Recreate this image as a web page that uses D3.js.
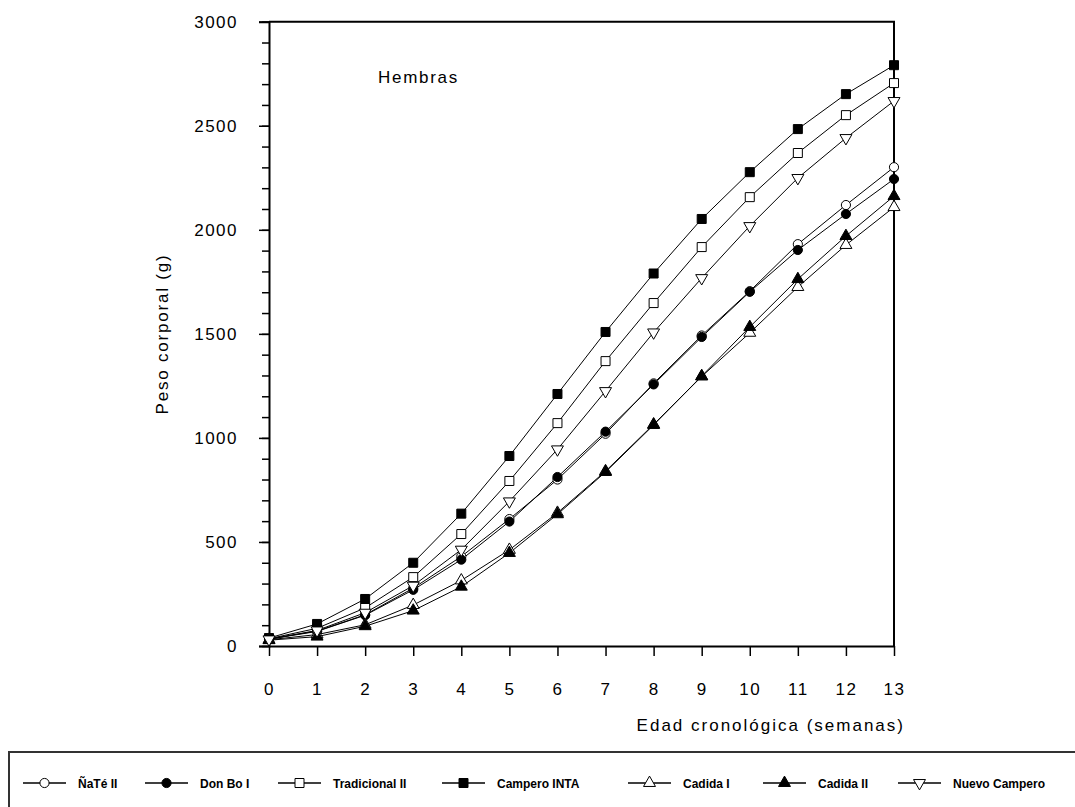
<!DOCTYPE html>
<html>
<head>
<meta charset="utf-8">
<script src="https://cdn.jsdelivr.net/npm/d3@7"></script>
<style>
  body { margin: 0; background: #fff; }
  svg { display: block; font-family: "Liberation Sans", Arial, sans-serif; }
</style>
</head>
<body>
<div id="chart"></div>
<script>
// weeks (x categories)
const weeks = [0, 1, 2, 3, 4, 5, 6, 7, 8, 9, 10, 11, 12, 13];
const yTicks = [0, 500, 1000, 1500, 2000, 2500, 3000];

// body weight (g) per line
const nate2      = [34, 72, 150, 278, 430, 610, 800, 1020, 1262, 1492, 1705, 1931, 2119, 2301];
const donBo1     = [33, 70, 148, 270, 415, 598, 812, 1030, 1257, 1485, 1702, 1903, 2076, 2244];
const tradic2    = [35, 85, 183, 331, 538, 793, 1071, 1369, 1648, 1917, 2157, 2369, 2551, 2705];
const camperoInta= [38, 106, 226, 400, 636, 913, 1211, 1509, 1790, 2052, 2277, 2484, 2652, 2791];
const cadida1    = [30, 55, 102, 197, 315, 462, 640, 840, 1065, 1295, 1505, 1725, 1927, 2109];
const cadida2    = [28, 45, 95, 170, 285, 447, 633, 836, 1062, 1297, 1533, 1763, 1970, 2162];
const nuevoCamp  = [32, 75, 160, 290, 463, 695, 945, 1225, 1507, 1768, 2018, 2249, 2441, 2619];

const seriesNames = ['ÑaTé II', 'Don Bo I', 'Tradicional II', 'Campero INTA', 'Cadida I', 'Cadida II', 'Nuevo Campero'];
const seriesValues = [nate2, donBo1, tradic2, camperoInta, cadida1, cadida2, nuevoCamp];

// marker style per series
const markers = [
  {shape: 'circle', fill: '#fff'},
  {shape: 'circle', fill: '#000'},
  {shape: 'square', fill: '#fff'},
  {shape: 'square', fill: '#000'},
  {shape: 'triangle', fill: '#fff'},
  {shape: 'triangle', fill: '#000'},
  {shape: 'triangleDown', fill: '#fff'}
];

const width = 1075, height = 807;
const plot = {left: 269, right: 894, top: 21.7, bottom: 646};

const svg = d3.select('#chart').append('svg')
  .attr('width', width)
  .attr('height', height);

const x = d3.scaleLinear().domain([0, 13]).range([plot.left, plot.right]);
const y = d3.scaleLinear().domain([0, 3000]).range([plot.bottom, plot.top]);

const tickFont = g => g.selectAll('text')
  .attr('font-size', 17)
  .attr('letter-spacing', '1.5px')
  .attr('fill', '#000')
  .attr('font-family', '"Liberation Sans", Arial, sans-serif');

// minor y ticks (every 100)
svg.append('g')
  .attr('transform', `translate(${plot.left},0)`)
  .call(d3.axisLeft(y).tickValues(d3.range(0, 3001, 100)).tickSize(7).tickFormat(''))
  .call(g => g.select('.domain').remove())
  .call(g => g.selectAll('line').attr('stroke', '#000').attr('stroke-width', 1.5));

// major y ticks
svg.append('g')
  .attr('transform', `translate(${plot.left},0)`)
  .call(d3.axisLeft(y).tickValues(yTicks).tickSize(10).tickPadding(21).tickFormat(d3.format('d')))
  .call(g => g.select('.domain').attr('stroke', '#000').attr('stroke-width', 2))
  .call(g => g.selectAll('line').attr('stroke', '#000').attr('stroke-width', 1.5))
  .call(tickFont);

// x axis
svg.append('g')
  .attr('transform', `translate(0,${plot.bottom})`)
  .call(d3.axisBottom(x).tickValues(weeks).tickSize(10).tickPadding(27).tickSizeOuter(0))
  .call(g => g.select('.domain').attr('stroke', '#000').attr('stroke-width', 2))
  .call(g => g.selectAll('line').attr('stroke', '#000').attr('stroke-width', 1.5))
  .call(tickFont);

// top and right frame
svg.append('path')
  .attr('d', `M${plot.left},${y(3000)}H${x(13)}V${y(0)}`)
  .attr('fill', 'none')
  .attr('stroke', '#000')
  .attr('stroke-width', 2);

// axis titles
svg.append('text')
  .attr('x', 905).attr('y', 731)
  .attr('text-anchor', 'end')
  .attr('font-size', 17)
  .attr('letter-spacing', '2px')
  .text('Edad cronológica (semanas)');

svg.append('text')
  .attr('transform', 'translate(168,334) rotate(-90)')
  .attr('text-anchor', 'middle')
  .attr('font-size', 17)
  .attr('letter-spacing', '1.8px')
  .text('Peso corporal (g)');

svg.append('text')
  .attr('x', 378).attr('y', 83)
  .attr('font-size', 17)
  .attr('letter-spacing', '1.7px')
  .text('Hembras');

// symbol generator
function symbolPath(shape) {
  if (shape === 'circle') return d3.symbol(d3.symbolCircle, 66)();
  if (shape === 'square') return d3.symbol(d3.symbolSquare, 81)();
  return d3.symbol(d3.symbolTriangle, 62)();
}
function symbolRotate(shape) { return shape === 'triangleDown' ? ' rotate(180)' : ''; }

const line = d3.line()
  .x((d, i) => x(weeks[i]))
  .y(d => y(d));

const chartInner = svg.append('g').classed('chart-inner', true);

chartInner.selectAll('.series-line')
  .data(seriesValues)
  .enter()
  .append('path')
  .classed('series-line', true)
  .attr('d', d => line(d))
  .attr('fill', 'none')
  .attr('stroke', '#000')
  .attr('stroke-width', 1);

seriesValues.forEach((vals, s) => {
  const m = markers[s];
  chartInner.selectAll('.pt-' + s)
    .data(vals)
    .enter()
    .append('path')
    .attr('class', 'pt-' + s)
    .attr('d', symbolPath(m.shape))
    .attr('transform', (d, i) => `translate(${x(weeks[i])},${y(d)})` + symbolRotate(m.shape))
    .attr('fill', m.fill)
    .attr('stroke', '#000')
    .attr('stroke-width', 1);
});

// legend
const legend = svg.append('g').classed('legend', true);
legend.append('rect')
  .attr('x', 9).attr('y', 752)
  .attr('width', 1080).attr('height', 80)
  .attr('fill', 'none')
  .attr('stroke', '#333')
  .attr('stroke-width', 2);

const legendX = [23, 145, 278, 442, 628, 763, 898];
const legendY = 783;

seriesNames.forEach((name, s) => {
  const m = markers[s];
  const lx = legendX[s];
  const g = legend.append('g');
  g.append('line')
    .attr('x1', lx).attr('x2', lx + 43)
    .attr('y1', legendY).attr('y2', legendY)
    .attr('stroke', '#000').attr('stroke-width', 1.5);
  g.append('path')
    .attr('d', symbolPath(m.shape))
    .attr('transform', `translate(${lx + 21.5},${legendY})` + symbolRotate(m.shape))
    .attr('fill', m.fill)
    .attr('stroke', '#000')
    .attr('stroke-width', 1);
  g.append('text')
    .attr('x', lx + 47 + 8)
    .attr('y', legendY + 5)
    .attr('font-size', 12)
    .attr('font-weight', 'bold')
    .attr('font-family', '"Liberation Sans Narrow", "Liberation Sans", Arial, sans-serif')
    .text(name);
});
</script>
</body>
</html>
